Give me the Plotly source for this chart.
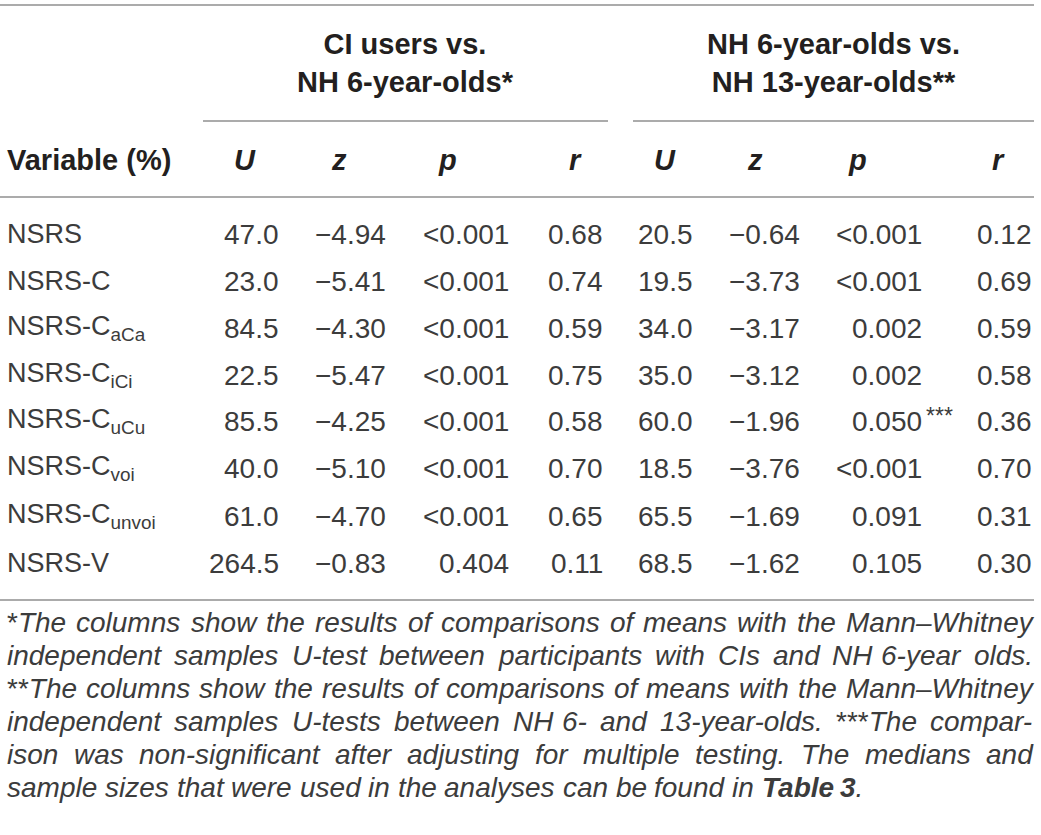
import plotly.graph_objects as go

# table content
variables = ["NSRS", "NSRS-C", "NSRS-C<sub>aCa</sub>", "NSRS-C<sub>iCi</sub>",
             "NSRS-C<sub>uCu</sub>", "NSRS-C<sub>voi</sub>", "NSRS-C<sub>unvoi</sub>", "NSRS-V"]
u_ci = ["47.0", "23.0", "84.5", "22.5", "85.5", "40.0", "61.0", "264.5"]
z_ci = ["−4.94", "−5.41", "−4.30", "−5.47", "−4.25", "−5.10", "−4.70", "−0.83"]
p_ci = ["<0.001", "<0.001", "<0.001", "<0.001", "<0.001", "<0.001", "<0.001", "0.404"]
r_ci = ["0.68", "0.74", "0.59", "0.75", "0.58", "0.70", "0.65", "0.11"]
u_nh = ["20.5", "19.5", "34.0", "35.0", "60.0", "18.5", "65.5", "68.5"]
z_nh = ["−0.64", "−3.73", "−3.17", "−3.12", "−1.96", "−3.76", "−1.69", "−1.62"]
p_nh = ["<0.001", "<0.001", "0.002", "0.002", "0.050", "<0.001", "0.091", "0.105"]
p_nh_mark = ["", "", "", "", "***", "", "", ""]
r_nh = ["0.12", "0.69", "0.59", "0.58", "0.36", "0.70", "0.31", "0.30"]

group_titles = ["CI users vs.<br>NH 6-year-olds*", "NH 6-year-olds vs.<br>NH 13-year-olds**"]
col_titles = ["U", "z", "p", "r", "U", "z", "p", "r"]

# footnote lines as in the reference (last one not justified)
footnote = [
    "*The columns show the results of comparisons of means with the Mann–Whitney",
    "independent samples U-test between participants with CIs and NH 6-year olds.",
    "**The columns show the results of comparisons of means with the Mann–Whitney",
    "independent samples U-tests between NH 6- and 13-year-olds. ***The compar-",
    "ison was non-significant after adjusting for multiple testing. The medians and",
    "sample sizes that were used in the analyses can be found in Table 3.",
]

W, H = 1041, 835
FONT = "Liberation Sans, Arial, sans-serif"
TXT = "#3c3c3c"
HEAD = "#231f20"
LINE = "#8f8f8f"
FOOT_SIZE = 28

# Arial / Liberation Sans advance widths (1/1000 em), used to justify the footnote
WID = dict(zip("abcdefghijklmnopqrstuvwxyz",
               [556, 556, 500, 556, 556, 278, 556, 556, 222, 222, 500, 222, 833,
                556, 556, 556, 556, 333, 500, 278, 556, 500, 722, 500, 500, 500]))
WID.update({"C": 722, "I": 278, "M": 833, "N": 722, "T": 611, "U": 722, "W": 944,
            "*": 389, ".": 278, "-": 333, "–": 556, " ": 278})
for d in "0123456789":
    WID[d] = 556


def word_width(w, size):
    return sum(WID.get(ch, 556) for ch in w) * size / 1000


fig = go.Figure()
fig.update_layout(
    width=W, height=H, margin=dict(l=0, r=0, t=0, b=0),
    paper_bgcolor="white", plot_bgcolor="white", showlegend=False,
    xaxis=dict(range=[0, W], visible=False, fixedrange=True),
    yaxis=dict(range=[H, 0], visible=False, fixedrange=True),
)


def txt(x, y, s, anchor="left", size=28, bold=False, italic=False, color=TXT):
    fig.add_annotation(
        x=x, y=y, text=s, showarrow=False, xanchor=anchor, yanchor="middle",
        font=dict(family=FONT, size=size, color=color,
                  weight="bold" if bold else "normal",
                  style="italic" if italic else "normal"),
        xref="x", yref="y", align="center" if anchor == "center" else "left",
        borderpad=0, borderwidth=0,
    )


def hline(x0, x1, y, w=1.6):
    fig.add_shape(type="line", x0=x0, x1=x1, y0=y, y1=y, xref="x", yref="y",
                  line=dict(color=LINE, width=w))


# rules
hline(0, 1034, 5)
hline(203, 608, 121)
hline(633, 1034, 121)
hline(0, 1034, 197)
hline(0, 1034, 600)

# group headers
txt(405, 63, group_titles[0], anchor="center", size=29, bold=True, color=HEAD)
txt(833, 63, group_titles[1], anchor="center", size=29, bold=True, color=HEAD)

# column headers
txt(7, 160, "Variable (%)", size=29, bold=True, color=HEAD)
col_x = [245, 339, 447, 575, 665, 755, 857, 998]
for cx, t in zip(col_x, col_titles):
    txt(cx, 160, t, anchor="center", size=29, bold=True, italic=True, color=HEAD)

# body
row_y = [234, 281, 328, 375, 421, 468, 516, 563]
cols = [(u_ci, 279), (z_ci, 386), (p_ci, 509), (r_ci, 603),
        (u_nh, 693), (z_nh, 800), (p_nh, 922), (r_nh, 1032)]
for i, y in enumerate(row_y):
    txt(7, y, variables[i], size=27)
    for vals, xr in cols:
        txt(xr, y, vals[i], anchor="right")
    if p_nh_mark[i]:
        txt(926, y - 5, p_nh_mark[i], size=23)

# footnote, justified between x=7 and x=1033
foot_y = [622, 655, 688, 721, 754, 787]
left, right = 7, 1033
for k, (y, line) in enumerate(zip(foot_y, footnote)):
    words = line.split(" ")
    widths = [word_width(w, FOOT_SIZE) for w in words]
    space = WID[" "] * FOOT_SIZE / 1000
    if k < len(footnote) - 1 and len(words) > 1:
        space = (right - left - sum(widths)) / (len(words) - 1)
    x = left
    for w, ww in zip(words, widths):
        label = w
        stars = len(w) - len(w.lstrip("*"))
        if stars:
            label = "<span style='font-style:normal'>" + w[:stars] + "</span>" + w[stars:]
        if w == "Table":
            label = "<b>Table</b>"
        if w == "3.":
            label = "<b>3</b>."
        txt(x, y, label, size=FOOT_SIZE, italic=True)
        x += ww + space

fig.write_html("out.html", config={"displayModeBar": False},
               post_script="document.body.style.margin='0';document.body.style.overflow='hidden';")
